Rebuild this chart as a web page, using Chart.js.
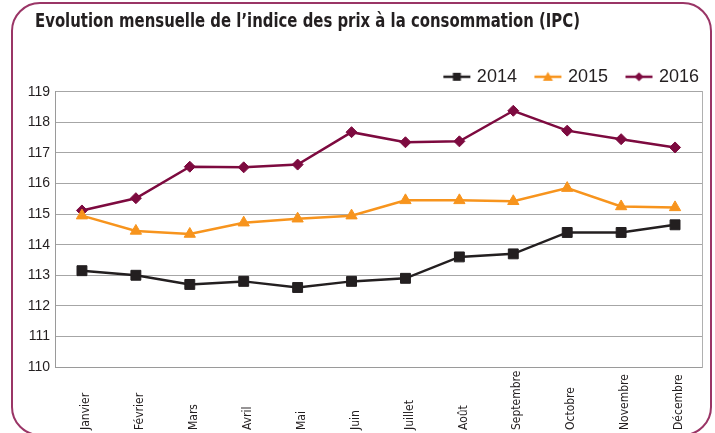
<!DOCTYPE html>
<html>
<head>
<meta charset="utf-8">
<script src="https://cdn.jsdelivr.net/npm/chart.js@4/dist/chart.umd.min.js"></script>
<style>
html,body{margin:0;padding:0;background:#fff;}
#wrap{position:relative;width:715px;height:433px;}
canvas{display:block;}
</style>
</head>
<body>
<div id="wrap"><canvas id="c" width="715" height="433"></canvas></div>
<script>
const months = ["Janvier","Février","Mars","Avril","Mai","Juin","Juillet","Août","Septembre","Octobre","Novembre","Décembre"];
const yTicks = [110,111,112,113,114,115,116,117,118,119];
const seriesNames = ["2014","2015","2016"];
const v2014 = [113.15,113.0,112.7,112.8,112.6,112.8,112.9,113.6,113.7,114.4,114.4,114.65];
const v2015 = [114.95,114.45,114.35,114.72,114.85,114.95,115.45,115.45,115.42,115.85,115.25,115.22];
const v2016 = [115.12,115.52,116.55,116.53,116.62,117.68,117.35,117.38,118.38,117.73,117.45,117.18];
const titleText = "Evolution mensuelle de l’indice des prix à la consommation (IPC)";

const colors = ["#231f20","#f7941d","#7d0a3f"];
const styles = ["rect","triangle","rectRot"];
const radii = [7,6.5,5.5];

const FONT_N = "'DejaVu Sans Condensed','Liberation Sans Narrow',sans-serif";
const FONT = "'Liberation Sans',Arial,sans-serif";
const TITLE_FONT = {family:FONT_N, size:19, weight:'bold'};
const TITLE_WIDTH = 545;

function legendIcon(i){
  const cv = document.createElement('canvas');
  cv.width = 40; cv.height = 14;
  const g = cv.getContext('2d');
  g.strokeStyle = colors[i]; g.fillStyle = colors[i]; g.lineWidth = 2.5;
  g.beginPath(); g.moveTo(11,7); g.lineTo(38,7); g.stroke();
  const cx = 24.5;
  g.beginPath();
  if(i===0){ g.rect(cx-4,3,8,8); }
  else if(i===1){ g.moveTo(cx,2); g.lineTo(cx+5,11); g.lineTo(cx-5,11); g.closePath(); }
  else { g.moveTo(cx,2.5); g.lineTo(cx+4.5,7); g.lineTo(cx,11.5); g.lineTo(cx-4.5,7); g.closePath(); }
  g.fill();
  return cv;
}

const framePlugin = {
  id:'frame',
  afterLayout(chart){
    const t = chart.titleBlock;
    if(t && !t._wrapped){
      t._wrapped = true;
      const orig = t.draw.bind(t);
      t.draw = function(){
        const ctx = this.ctx;
        ctx.save();
        ctx.font = `bold ${TITLE_FONT.size}px ${TITLE_FONT.family}`;
        const w = ctx.measureText(titleText).width;
        const sx = TITLE_WIDTH / w;
        const L = this.left, R = this.right;
        this.left = 0; this.right = (R - 35) / sx;
        ctx.translate(35,0);
        ctx.scale(sx,1);
        orig();
        this.left = L; this.right = R;
        ctx.restore();
      };
    }
    const lg = chart.legend;
    if(lg){ lg.right = 710; lg.top += 4; lg.bottom += 4; }
  },
  beforeDraw(chart){
    const ctx = chart.ctx;
    // month labels: start of rotated text aligned at the bottom
    const xs = chart.scales.x;
    xs.getLabelItems(chart.chartArea).forEach(it=>{
      it.options.textAlign = 'left';
      it.options.translation[1] = chart.height - 3;
    });
    ctx.save();
    ctx.strokeStyle = '#9a3566';
    ctx.lineWidth = 2;
    const x=12,y=3,w=699,h=432,r=28;
    ctx.beginPath();
    ctx.moveTo(x+r,y);
    ctx.lineTo(x+w-r,y); ctx.arcTo(x+w,y,x+w,y+r,r);
    ctx.lineTo(x+w,y+h-r); ctx.arcTo(x+w,y+h,x+w-r,y+h,r);
    ctx.lineTo(x+r,y+h); ctx.arcTo(x,y+h,x,y+h-r,r);
    ctx.lineTo(x,y+r); ctx.arcTo(x,y,x+r,y,r);
    ctx.closePath();
    ctx.stroke();
    ctx.restore();
  }
};

const dataSets = [v2014,v2015,v2016].map((d,i)=>({
  label: seriesNames[i],
  data: d,
  borderColor: colors[i],
  backgroundColor: colors[i],
  borderWidth: 2.5,
  pointStyle: styles[i],
  pointRadius: radii[i],
  pointHoverRadius: radii[i],
  pointBorderWidth: 1,
  pointBackgroundColor: colors[i],
  pointBorderColor: colors[i],
  tension: 0
}));

new Chart(document.getElementById('c'), {
  type:'line',
  data:{ labels: months, datasets: dataSets },
  options:{
    responsive:false,
    animation:false,
    events:[],
    layout:{ padding:{ left:20, right:13, top:0, bottom:0 } },
    plugins:{
      title:{
        display:true,
        text:titleText,
        align:'start',
        color:'#231f20',
        font:TITLE_FONT,
        padding:{ top:11, bottom:19 }
      },
      legend:{
        display:true,
        align:'end',
        labels:{
          usePointStyle:true,
          pointStyleWidth:31,
          boxHeight:14,
          color:'#231f20',
          font:{ family:FONT, size:18 },
          padding:11,
          generateLabels(chart){
            return chart.data.datasets.map((ds,i)=>({
              text: ds.label, pointStyle: legendIcon(i), fillStyle: colors[i],
              strokeStyle: colors[i], lineWidth:0, hidden:false, datasetIndex:i, fontColor:'#231f20'
            }));
          }
        }
      },
      tooltip:{ enabled:false }
    },
    scales:{
      x:{
        type:'category',
        offset:true,
        afterFit(s){ s.height = 66; },
        grid:{ display:false, drawTicks:false },
        border:{ display:true, color:'#9a9a9a', width:1 },
        ticks:{
          autoSkip:false, minRotation:90, maxRotation:90, padding:8, labelOffset:4,
          color:'#231f20', font:{ family:FONT_N, size:12 }
        }
      },
      y:{
        min:110, max:119,
        afterFit(s){ s.width = 35; },
        afterBuildTicks(s){ s.ticks = yTicks.map(v=>({value:v})); },
        grid:{ color:'#a6a6a6', lineWidth:1, drawTicks:false },
        border:{ display:true, color:'#9a9a9a', width:1 },
        ticks:{ padding:5, color:'#231f20', font:{ family:FONT, size:14 } }
      },
      y2:{
        position:'right',
        min:110, max:119,
        grid:{ drawOnChartArea:false, drawTicks:false },
        border:{ display:true, color:'#b0b0b0', width:1 },
        ticks:{ display:false }
      }
    }
  },
  plugins:[framePlugin]
});
</script>
</body>
</html>
